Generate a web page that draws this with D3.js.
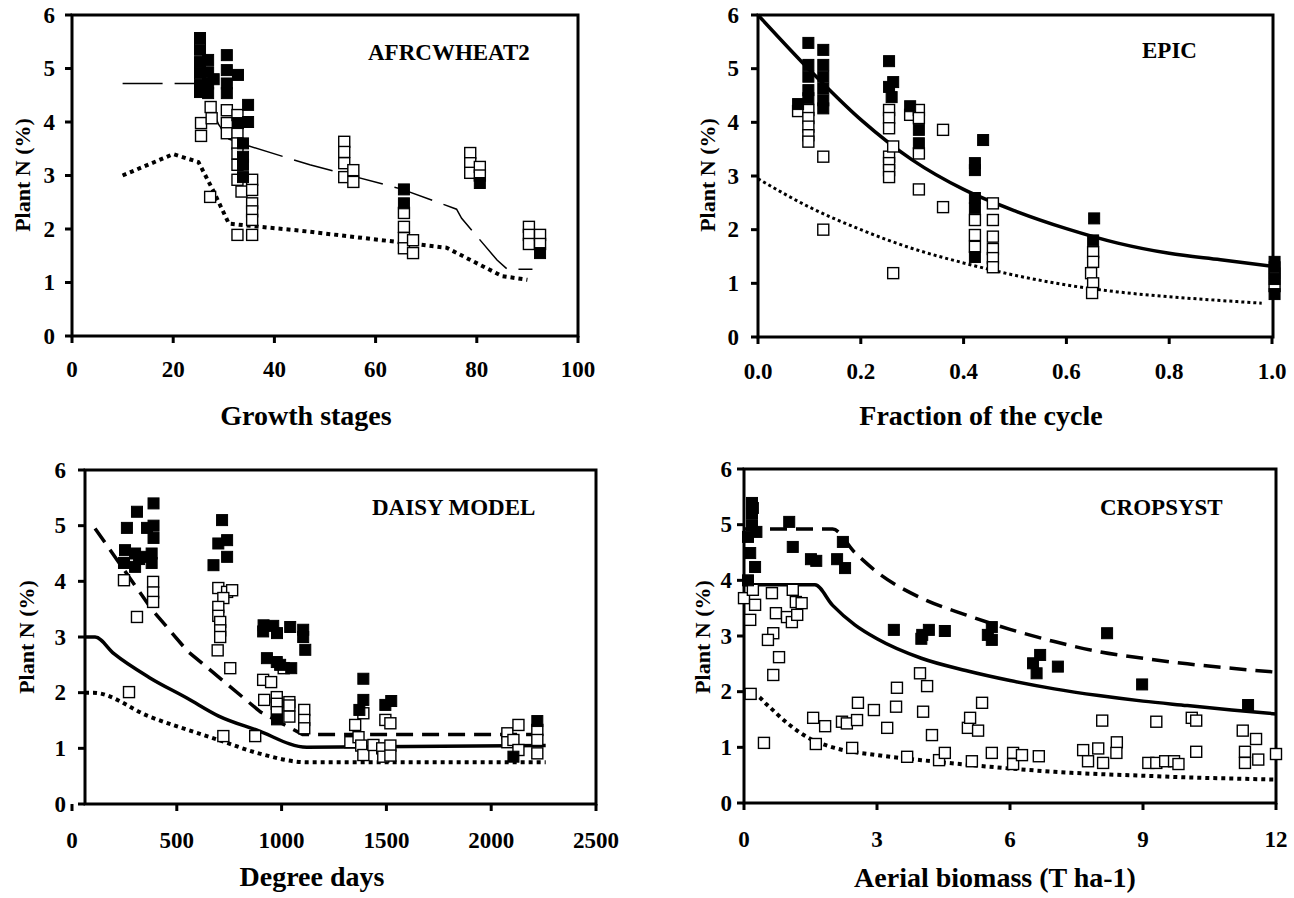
<!doctype html>
<html>
<head>
<meta charset="UTF-8">
<title>Plant N dilution curves</title>
<script src="https://d3js.org/d3.v7.min.js"></script>
<style>
  body { margin: 0; background: #fff; }
  svg text { font-family: "Liberation Serif", "Times New Roman", serif; font-weight: bold; fill: #000; }
</style>
</head>
<body>
<svg id="fig" width="1294" height="898"></svg>
<script>
// ---- data ----
var yTicks = [0, 1, 2, 3, 4, 5, 6];

// AFRCWHEAT2 : growth stages
var afrcTicks = [0, 20, 40, 60, 80, 100];
var afrcFilled = [[25.3,5.57],[25.3,5.35],[25.3,5.12],[25.3,4.91],[25.3,4.69],[25.3,4.56],
  [26.9,5.16],[26.9,4.93],[26.9,4.72],[26.9,4.54],[28,4.8],
  [30.6,5.25],[30.6,4.97],[30.6,4.72],[30.6,4.54],
  [32.8,4.88],[32.8,3.98],[34.8,4.32],[34.8,4.0],
  [33.8,3.6],[33.8,3.35],[33.8,3.2],[33.8,2.97],
  [65.6,2.74],[65.6,2.48],[80.6,2.86],[92.5,1.55]];
var afrcOpen = [[25.5,3.98],[25.5,3.74],[27.4,4.28],[27.6,4.07],
  [30.6,4.22],[30.6,3.98],[30.6,3.79],
  [32.7,4.13],[32.7,3.79],[32.7,3.6],[32.7,3.41],[32.7,3.2],[32.7,2.92],[33.5,2.7],
  [27.3,2.6],[32.7,1.89],
  [35.6,2.92],[35.6,2.73],[35.6,2.48],[35.6,2.33],[35.6,2.17],[35.6,1.89],
  [53.8,3.63],[53.8,3.44],[53.8,3.23],[53.8,2.97],[55.6,3.1],[55.6,2.88],
  [65.6,2.3],[65.6,2.04],[65.6,1.83],[65.6,1.64],[67.4,1.79],[67.4,1.55],
  [78.7,3.42],[78.7,3.23],[78.7,3.05],[80.6,3.16],[80.6,3.0],
  [90.3,2.04],[90.3,1.89],[90.3,1.72],[92.5,1.89],[92.5,1.72]];
var afrcLongDash = [[10,4.72],[25,4.72],[27,4.4],[29,3.95],[31,3.68],[34,3.58],[47,3.2],
  [65,2.75],[76,2.37],[77,2.2],[84,1.42],[86,1.25],[91,1.25]];
var afrcDotted = [[10,3.0],[20,3.4],[25,3.25],[28,2.7],[31,2.1],[33,2.08],[45,1.97],
  [65,1.75],[74,1.65],[85,1.12],[90,1.05]];

// EPIC : fraction of the cycle
var epicTicks = [0, 0.2, 0.4, 0.6, 0.8, 1.0];
var epicFilled = [[0.098,5.48],[0.098,5.07],[0.098,4.85],[0.098,4.6],[0.098,4.45],[0.078,4.34],
  [0.127,5.35],[0.127,5.07],[0.127,4.85],[0.127,4.63],[0.127,4.41],[0.127,4.26],
  [0.255,5.14],[0.255,4.66],[0.263,4.75],[0.26,4.47],
  [0.296,4.3],[0.313,3.86],[0.313,3.61],
  [0.422,3.24],[0.422,3.11],[0.422,2.59],[0.422,2.4],[0.422,1.49],
  [0.438,3.67],[0.654,2.21],[0.652,1.8],
  [1.005,1.4],[1.005,1.3],[1.005,1.08],[1.005,0.8]];
var epicOpen = [[0.078,4.21],[0.098,4.23],[0.098,4.08],[0.098,3.92],[0.098,3.76],[0.098,3.64],
  [0.127,3.36],[0.127,2.0],
  [0.255,4.23],[0.255,4.08],[0.255,3.89],[0.255,3.36],[0.255,3.24],[0.255,3.11],[0.255,2.98],
  [0.263,3.55],[0.263,1.19],
  [0.296,4.14],[0.313,4.23],[0.313,4.08],[0.313,3.42],[0.313,2.75],
  [0.36,3.86],[0.36,2.42],
  [0.422,2.18],[0.422,1.9],[0.422,1.68],
  [0.457,2.49],[0.457,2.18],[0.457,1.87],[0.457,1.64],[0.457,1.47],[0.457,1.3],
  [0.652,1.58],[0.652,1.4],[0.648,1.19],[0.652,1.0],[0.65,0.82],
  [1.005,1.18],[1.005,0.95]];
var epicSolid = [[0,6.0],[0.1,4.98],[0.2,4.05],[0.3,3.3],[0.4,2.75],[0.5,2.35],[0.6,2.02],
  [0.7,1.75],[0.8,1.56],[0.9,1.44],[1.0,1.32]];
var epicDotted = [[0,2.95],[0.1,2.42],[0.2,2.0],[0.3,1.65],[0.4,1.38],[0.5,1.15],[0.6,0.97],
  [0.7,0.84],[0.8,0.75],[0.9,0.68],[0.98,0.63]];

// DAISY MODEL : degree days
var daisyTicks = [0, 500, 1000, 1500, 2000, 2500];
var daisyFilled = [[262,4.96],[310,5.25],[389,5.4],[358,4.96],[389,5.0],[389,4.78],
  [253,4.56],[248,4.33],[301,4.5],[301,4.26],[340,4.44],[380,4.5],[380,4.33],[320,4.4],
  [716,5.1],[740,4.74],[698,4.68],[740,4.44],[675,4.29],
  [914,3.21],[978,3.07],[1041,3.18],[930,2.62],[993,2.5],[912,3.1],[960,3.2],
  [1103,3.13],[1103,3.0],[1113,2.77],[1046,2.44],[977,2.55],[978,1.52],
  [1390,2.25],[1390,1.87],[1371,1.69],[1495,1.78],[1523,1.85],
  [2220,1.49],[2106,0.85]];
var daisyOpen = [[248,4.02],[387,3.99],[387,3.8],[387,3.63],[310,3.36],
  [698,3.88],[740,3.81],[764,3.84],[722,3.7],[698,3.54],[698,3.38],[707,3.27],[707,3.12],[707,3.0],
  [695,2.76],[755,2.44],
  [272,2.01],[722,1.22],[874,1.22],
  [1010,2.44],[912,2.23],[950,2.19],[917,1.87],[977,1.92],[977,1.8],[977,1.65],
  [1037,1.83],[1037,1.77],[1037,1.57],[1108,1.69],[1108,1.51],[1108,1.36],
  [1390,1.63],[1351,1.42],[1328,1.11],[1367,1.2],[1380,1.05],[1390,0.88],[1438,1.06],
  [1495,1.51],[1519,1.45],[1480,1.0],[1485,0.85],[1519,1.05],[1519,0.87],
  [2220,1.33],[2220,1.15],[2220,0.91],[2077,1.27],[2077,1.11],[2130,1.42],[2106,1.15],[2130,0.97]];
var daisySolid = [[62,3.0],[110,3.0],[200,2.7],[370,2.27],[550,1.9],[700,1.58],[880,1.33],[1120,1.02],[2260,1.05]];
var daisyDashed = [[110,4.95],[380,3.5],[550,2.75],[900,1.65],[1100,1.25],[2260,1.25]];
var daisyDotted = [[62,2.0],[100,2.0],[370,1.57],[700,1.15],[900,0.9],[1120,0.75],[2260,0.75]];

// CROPSYST : aerial biomass
var cropTicks = [0, 3, 6, 9, 12];
var cropFilled = [[0.18,5.39],[0.18,5.2],[0.18,4.99],[0.28,4.87],[0.09,4.78],[0.14,4.49],[0.25,4.24],[0.09,4.0],[0.2,5.3],
  [1.02,5.05],[1.1,4.6],[1.51,4.38],[1.63,4.35],[2.23,4.69],[2.1,4.38],[2.28,4.22],
  [3.38,3.11],[4.02,3.02],[4.17,3.11],[4.53,3.09],[4.0,2.95],[5.5,3.02],[5.59,3.16],[5.59,2.93],
  [6.52,2.51],[6.68,2.66],[6.6,2.33],[7.08,2.45],[8.19,3.05],[8.98,2.13],[11.37,1.76]];
var cropOpen = [[0.0,3.68],[0.2,3.83],[0.25,3.56],[0.14,3.29],[0.63,3.77],[0.72,3.41],[0.66,3.05],[0.54,2.93],[0.79,2.62],[0.66,2.3],
  [0.97,3.34],[1.08,3.25],[1.1,3.83],[1.17,3.61],[1.3,3.59],[1.2,3.38],
  [0.15,1.96],[0.45,1.08],
  [1.56,1.53],[1.83,1.38],[1.62,1.06],[2.21,1.46],[2.32,1.43],[2.55,1.49],[2.57,1.8],[2.44,0.99],
  [2.93,1.67],[3.23,1.35],[3.43,1.73],[3.45,2.07],[3.68,0.83],[3.97,2.33],[4.13,2.1],[4.04,1.64],[4.24,1.22],
  [4.4,0.77],[4.53,0.9],[5.05,1.35],[5.1,1.53],[5.28,1.3],[5.37,1.8],[5.14,0.75],[5.59,0.9],
  [6.07,0.9],[6.07,0.7],[6.27,0.86],[6.65,0.84],
  [7.65,0.95],[7.76,0.75],[7.99,0.98],[8.1,0.72],[8.08,1.48],[8.41,1.09],[8.4,0.9],
  [9.12,0.72],[9.3,0.72],[9.5,0.75],[9.7,0.75],[9.8,0.7],[9.3,1.46],[10.1,1.53],[10.2,1.48],[10.2,0.92],
  [11.25,1.3],[11.3,0.92],[11.3,0.72],[11.55,1.15],[11.6,0.78],[12.0,0.88]];
var cropSolid = [[0,3.92],[1.6,3.92],[2,3.55],[2.5,3.2],[3,2.95],[4,2.6],[5,2.38],[6,2.2],[7,2.05],
  [8,1.93],[9,1.83],[10,1.75],[11,1.67],[12,1.6]];
var cropDashed = [[0,4.92],[2.0,4.92],[2.5,4.5],[3,4.15],[4,3.68],[5,3.38],[6,3.12],[7,2.9],
  [8,2.72],[9,2.6],[10,2.5],[11,2.42],[12,2.35]];
var cropDotted = [[0,1.95],[0.3,1.92],[0.5,1.78],[1,1.42],[1.5,1.15],[2,1.0],[3,0.86],[4,0.77],
  [5,0.69],[6,0.62],[7,0.56],[8,0.52],[9,0.49],[10,0.46],[11,0.44],[12,0.42]];

// ---- line styles ----
var styles = {
  longdash: {w: 1.5, dash: "40,12"},
  solid:    {w: 3.5, dash: null},
  dashed:   {w: 3.5, dash: "17,9"},
  dotted:   {w: 4, dash: "4,4"},
  dotthin:  {w: 3, dash: "3,3"}
};

var panels = [
  {title: "AFRCWHEAT2", tx: 368, ty: 60, left: 72, right: 578, top: 15, bottom: 336,
   x0: 72, x1: 578, dom: [0, 100], ticks: afrcTicks, fmt: d3.format("d"),
   xlab: "Growth stages", xlx: 306, xly: 425, tly: 377, ylx: 22, yly: 175, ygap: 17,
   lines: [[afrcLongDash, "longdash", d3.curveLinear], [afrcDotted, "dotted", d3.curveLinear]],
   filled: afrcFilled, open: afrcOpen},
  {title: "EPIC", tx: 1142, ty: 58, left: 758, right: 1273, top: 15, bottom: 337,
   x0: 758, x1: 1272, dom: [0, 1], ticks: epicTicks, fmt: d3.format(".1f"),
   xlab: "Fraction of the cycle", xlx: 981, xly: 425, tly: 379, ylx: 707, yly: 175, ygap: 19,
   lines: [[epicSolid, "solid", d3.curveMonotoneX], [epicDotted, "dotthin", d3.curveMonotoneX]],
   filled: epicFilled, open: epicOpen},
  {title: "DAISY MODEL", tx: 372, ty: 515, left: 85, right: 596, top: 470, bottom: 804,
   x0: 72, x1: 596, dom: [0, 2500], ticks: daisyTicks, fmt: d3.format("d"),
   xlab: "Degree days", xlx: 312, xly: 886, tly: 848, ylx: 26, yly: 637, ygap: 19,
   lines: [[daisySolid, "solid", d3.curveMonotoneX], [daisyDashed, "dashed", d3.curveLinear], [daisyDotted, "dotted", d3.curveMonotoneX]],
   filled: daisyFilled, open: daisyOpen},
  {title: "CROPSYST", tx: 1100, ty: 515, left: 744, right: 1276, top: 469, bottom: 803,
   x0: 744, x1: 1276, dom: [0, 12], ticks: cropTicks, fmt: d3.format("d"),
   xlab: "Aerial biomass (T ha-1)", xlx: 995, xly: 887, tly: 847, ylx: 702, yly: 637, ygap: 12,
   lines: [[cropSolid, "solid", d3.curveMonotoneX], [cropDashed, "dashed", d3.curveMonotoneX], [cropDotted, "dotted", d3.curveMonotoneX]],
   filled: cropFilled, open: cropOpen}
];

var svg = d3.select("#fig");
var sq = 11;

panels.forEach(function(p) {
  var x = d3.scaleLinear().domain(p.dom).range([p.x0, p.x1]);
  var y = d3.scaleLinear().domain([0, 6]).range([p.bottom, p.top]);
  var g = svg.append("g");

  // frame
  g.append("rect")
    .attr("x", p.left).attr("y", p.top)
    .attr("width", p.right - p.left).attr("height", p.bottom - p.top)
    .attr("fill", "none").attr("stroke", "#000").attr("stroke-width", 3);

  // y ticks + labels
  yTicks.forEach(function(t) {
    g.append("line").attr("x1", p.left - 7).attr("x2", p.left)
      .attr("y1", y(t)).attr("y2", y(t)).attr("stroke", "#000").attr("stroke-width", 3);
    g.append("text").attr("x", p.left - p.ygap).attr("y", y(t))
      .attr("text-anchor", "end").attr("dominant-baseline", "central")
      .attr("font-size", 23).text(t);
  });

  // x ticks + labels
  p.ticks.forEach(function(t) {
    g.append("line").attr("x1", x(t)).attr("x2", x(t))
      .attr("y1", p.bottom).attr("y2", p.bottom + 7).attr("stroke", "#000").attr("stroke-width", 3);
    g.append("text").attr("x", x(t)).attr("y", p.tly)
      .attr("text-anchor", "middle").attr("font-size", 23).text(p.fmt(t));
  });

  // axis titles
  g.append("text").attr("x", p.xlx).attr("y", p.xly)
    .attr("text-anchor", "middle").attr("font-size", 28).text(p.xlab);
  g.append("text")
    .attr("transform", "translate(" + p.ylx + "," + p.yly + ") rotate(-90)")
    .attr("text-anchor", "middle").attr("dominant-baseline", "central")
    .attr("font-size", 22).text("Plant N (%)");
  g.append("text").attr("x", p.tx).attr("y", p.ty).attr("font-size", 23).text(p.title);

  // model lines
  p.lines.forEach(function(l) {
    var st = styles[l[1]];
    var gen = d3.line().x(function(d) { return x(d[0]); }).y(function(d) { return y(d[1]); }).curve(l[2]);
    g.append("path").datum(l[0]).attr("d", gen)
      .attr("fill", "none").attr("stroke", "#000").attr("stroke-width", st.w)
      .attr("stroke-dasharray", st.dash);
  });

  // observations
  g.selectAll(".open").data(p.open).enter().append("rect")
    .attr("x", function(d) { return x(d[0]) - sq / 2; })
    .attr("y", function(d) { return y(d[1]) - sq / 2; })
    .attr("width", sq).attr("height", sq)
    .attr("fill", "#fff").attr("stroke", "#000").attr("stroke-width", 1.4);
  g.selectAll(".filled").data(p.filled).enter().append("rect")
    .attr("x", function(d) { return x(d[0]) - sq / 2; })
    .attr("y", function(d) { return y(d[1]) - sq / 2; })
    .attr("width", sq).attr("height", sq)
    .attr("fill", "#000").attr("stroke", "#000").attr("stroke-width", 1);
});
</script>
</body>
</html>
